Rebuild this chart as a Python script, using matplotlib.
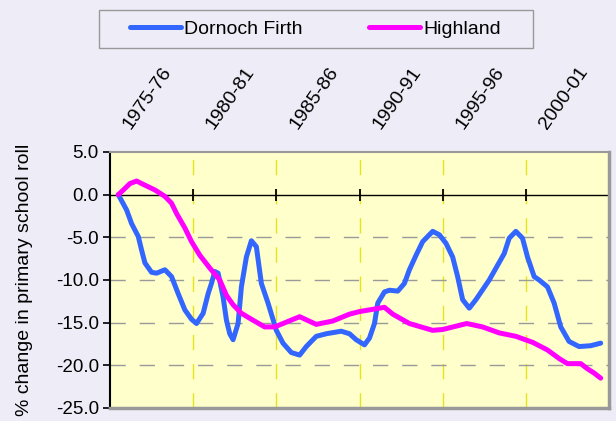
import numpy as np
import matplotlib
matplotlib.use("Agg")
from matplotlib import pyplot as plt
from matplotlib.patches import Rectangle
import matplotlib.transforms as mtransforms

plt.rcParams['font.family'] = ['Liberation Sans', 'DejaVu Sans']

# school years: 1975 means 1975-76 (one category per year)
dornoch_x = [1975.0, 1975.5, 1975.8, 1976.2, 1976.4, 1976.6, 1977.0, 1977.3,
             1977.8, 1978.2, 1978.6, 1979.0, 1979.4, 1979.7, 1980.1, 1980.4,
             1980.6, 1980.8, 1981.0, 1981.3, 1981.5, 1981.7, 1981.9, 1982.2,
             1982.4, 1982.7, 1983.0, 1983.3, 1983.6, 1984.0, 1984.5, 1984.9,
             1985.4, 1985.9, 1986.3, 1986.9, 1987.5, 1988.4, 1988.9, 1989.3,
             1989.8, 1990.1, 1990.4, 1990.6, 1991.0, 1991.3, 1991.8, 1992.2,
             1992.5, 1992.9, 1993.3, 1993.9, 1994.3, 1994.7, 1995.1, 1995.4,
             1995.7, 1996.1, 1996.5, 1997.3, 1998.2, 1998.5, 1998.9, 1999.3,
             1999.6, 2000.0, 2000.3, 2000.8, 2001.2, 2001.6, 2002.1, 2002.7,
             2003.4, 2004.0]
dornoch_y = [0.0, -1.8, -3.4, -4.9, -6.5, -8.0, -9.1, -9.2,
             -8.8, -9.6, -11.6, -13.5, -14.6, -15.1, -13.9, -11.6,
             -10.4, -9.0, -9.2, -12.0, -14.7, -16.3, -17.0, -15.1,
             -10.8, -7.3, -5.4, -6.1, -10.4, -12.7, -15.9, -17.4,
             -18.5, -18.8, -17.8, -16.6, -16.3, -16.0, -16.3, -17.0,
             -17.6, -16.8, -15.1, -12.7, -11.4, -11.2, -11.3, -10.4,
             -8.8, -7.1, -5.5, -4.3, -4.7, -5.7, -7.3, -9.6,
             -12.3, -13.3, -12.3, -10.0, -6.9, -5.1, -4.3, -5.1,
             -7.3, -9.6, -10.0, -10.8, -12.7, -15.5, -17.2, -17.8,
             -17.7, -17.4]

highland_x = [1975.0, 1975.3, 1975.7, 1976.1, 1976.4, 1977.2, 1977.8, 1978.2,
              1978.5, 1979.0, 1979.4, 1979.9, 1980.5, 1981.1, 1981.5, 1981.9,
              1982.4, 1983.0, 1983.8, 1984.4, 1984.9, 1985.9, 1986.9, 1987.9,
              1988.9, 1989.5, 1991.0, 1991.5, 1992.5, 1993.9, 1994.5, 1995.95,
              1996.9, 1997.9, 1998.9, 1999.9, 2000.8, 2001.5, 2002.0, 2002.8,
              2003.2, 2003.6, 2004.0]
highland_y = [0.0, 0.55, 1.3, 1.6, 1.3, 0.55, -0.2, -1.0,
              -2.2, -3.9, -5.5, -7.1, -8.6, -10.0, -11.8, -12.9,
              -13.9, -14.6, -15.5, -15.5, -15.1, -14.3, -15.2, -14.8,
              -14.0, -13.7, -13.2, -14.0, -15.1, -15.9, -15.8, -15.1,
              -15.5, -16.2, -16.6, -17.3, -18.2, -19.2, -19.8, -19.8,
              -20.4, -20.9, -21.5]

label_years = [1975, 1980, 1985, 1990, 1995, 2000]
tick_labels = ['1975-76', '1980-81', '1985-86', '1990-91', '1995-96', '2000-01']
first_year, last_year = 1975, 2004

bg = '#EEEDF7'
fig = plt.figure(figsize=(6.16, 4.21), dpi=100, facecolor=bg)
ax = fig.add_axes([110/616, 13/421, 499/616, 256/421])
ax.set_facecolor('#FFFFCC')

ax.set_xlim(first_year - 0.5, last_year + 0.5)
ax.set_ylim(-25, 5)

# gridlines: category boundaries every 5 years, value grid every 5
bounds = np.arange(first_year - 0.5 + 5, last_year + 0.5, 5)
for b in bounds:
    ax.axvline(b, color='#E4E41E', lw=1.0, ls=(0, (11, 10)), zorder=1)
for v in [-5, -10, -15, -20]:
    ax.axhline(v, color='#9A9A9A', lw=1.0, ls=(0, (11, 10)), zorder=1)

# category axis along zero with crossing tick marks
ax.axhline(0, color='black', lw=1.0, zorder=2)
tick_pos = np.append(bounds, last_year + 0.5)
ax.plot(tick_pos, np.zeros(len(tick_pos)), ls='none', marker='|', ms=9,
        mew=1.3, color='black', zorder=2, clip_on=False)

ax.plot(dornoch_x, dornoch_y, color='#3366FF', lw=3.6, solid_joinstyle='round',
        solid_capstyle='round', zorder=3, label='Dornoch Firth')
ax.plot(highland_x, highland_y, color='#FF00FF', lw=3.6, solid_joinstyle='round',
        solid_capstyle='round', zorder=3, label='Highland')

ax.set_xticks([])
ax.set_yticks(np.arange(-25, 5.1, 5))
ax.set_yticklabels(['%.1f' % v for v in np.arange(-25, 5.1, 5)], fontsize=13.5)
ax.tick_params(axis='y', direction='out', length=5, width=1.2, color='black', pad=3)

for s in ['top', 'right', 'bottom']:
    ax.spines[s].set_color('#999999')
ax.spines['top'].set_linewidth(1.5)
ax.spines['right'].set_linewidth(2.5)
ax.spines['bottom'].set_linewidth(2.5)
ax.spines['left'].set_color('black')
ax.spines['left'].set_linewidth(1.5)

trans = mtransforms.blended_transform_factory(ax.transData, ax.transAxes)
for yr, lab in zip(label_years, tick_labels):
    ax.text(yr + 0.75, 1.086, lab, transform=trans, rotation=55,
            rotation_mode='anchor', ha='left', va='baseline', fontsize=14)

fig.text(0.04, 0.335, '% change in primary school roll', rotation=90,
         ha='center', va='center', fontsize=14)

# legend box
fig.patches.append(Rectangle((99/616, 1 - 48/421), 434/616, 38/421,
                             transform=fig.transFigure, facecolor='none',
                             edgecolor='#999999', lw=1.0))
fig.legend(loc='center left', bbox_to_anchor=(130/616, 1 - 29/421), ncol=2,
           frameon=False, fontsize=14, handlelength=2.6, handletextpad=0.2,
           columnspacing=3.4, borderpad=0, borderaxespad=0)

fig.savefig('out.png', dpi=100, facecolor=bg)
